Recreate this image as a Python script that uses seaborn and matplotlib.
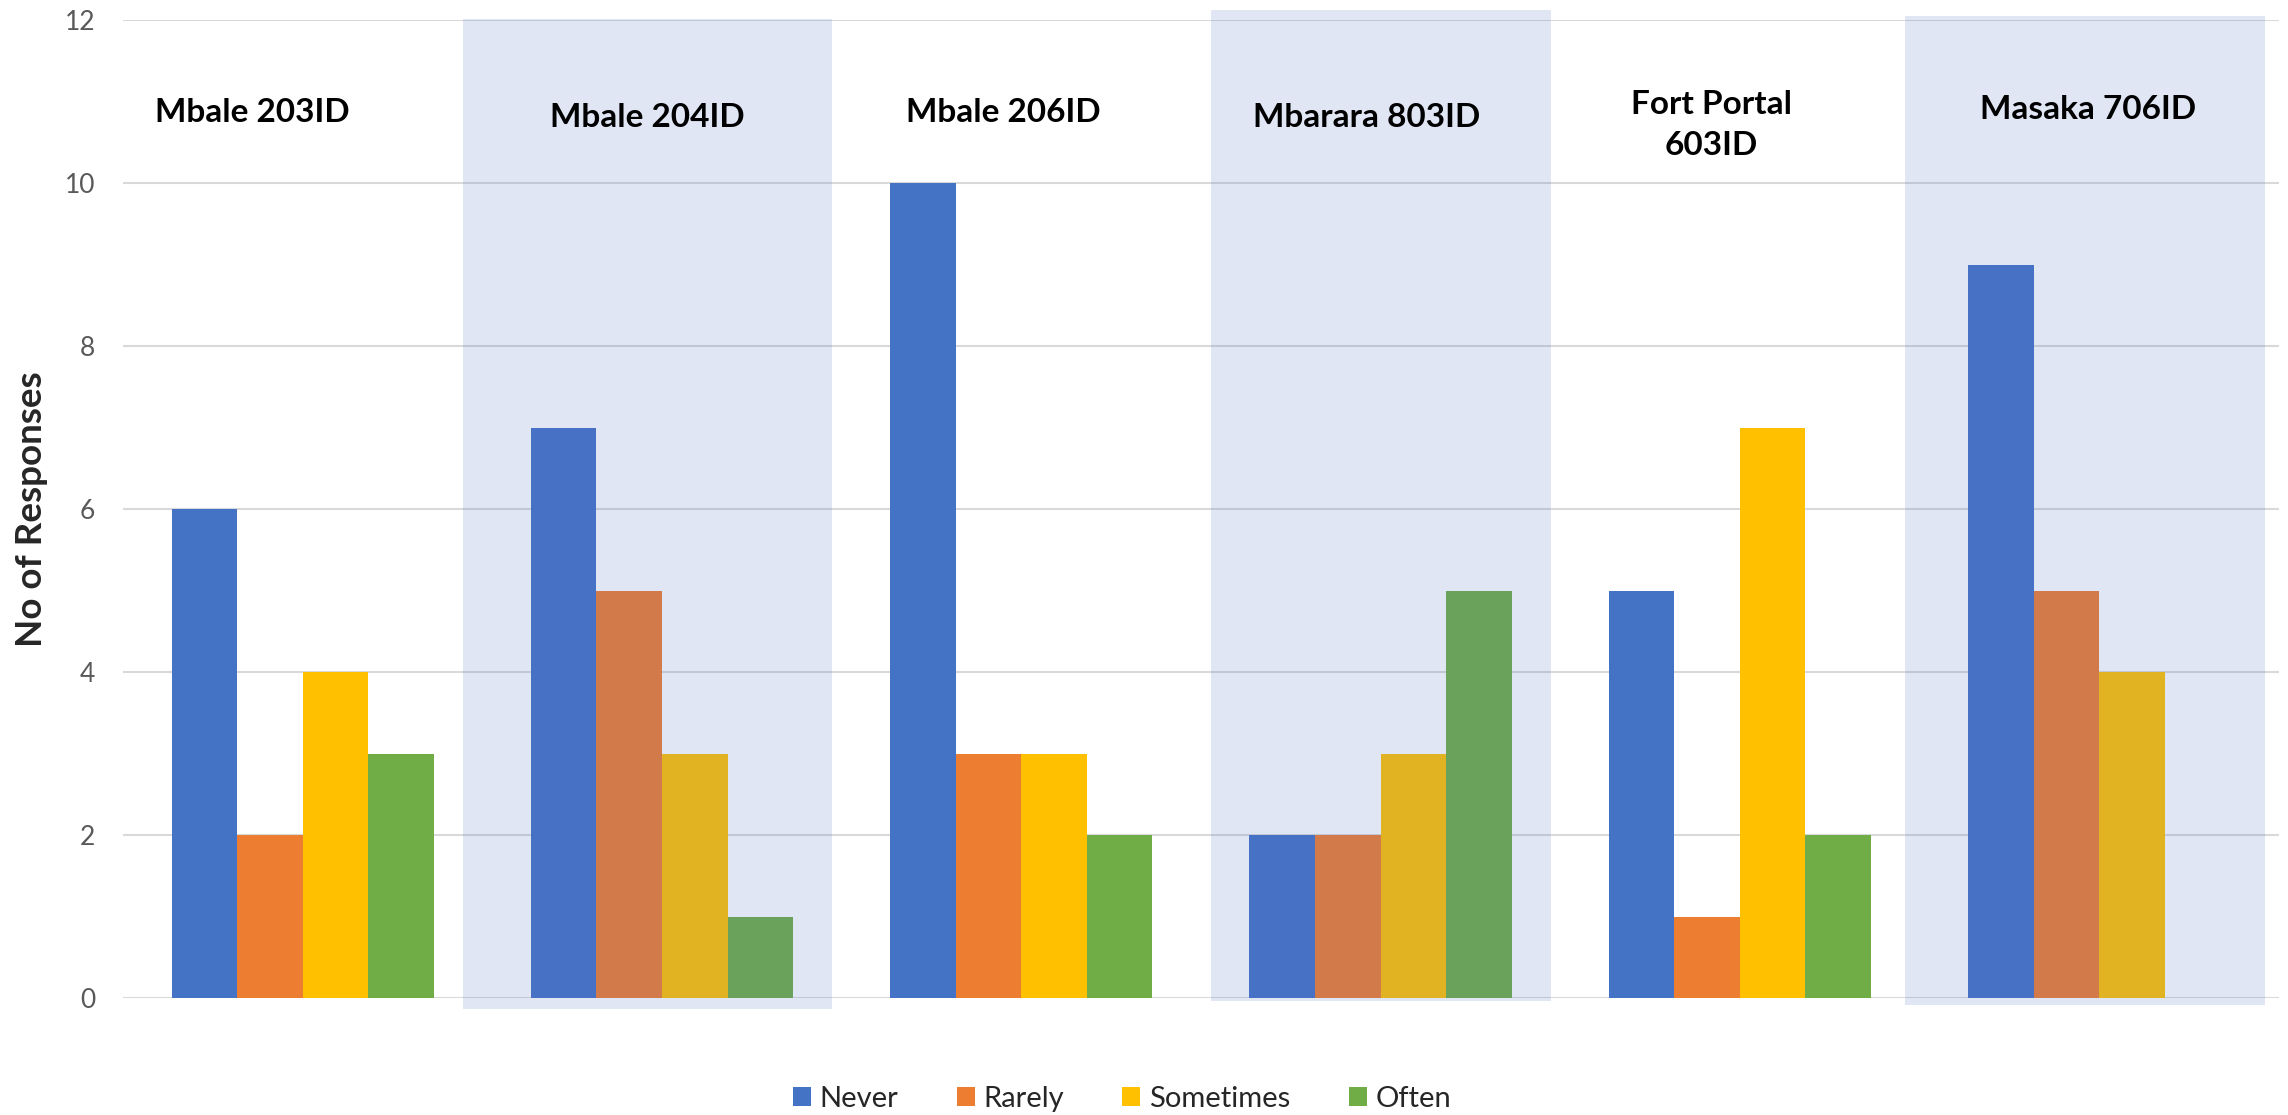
import pandas as pd
import seaborn as sns
import matplotlib.pyplot as plt
from matplotlib.patches import Rectangle

# data
sites = ["Mbale 203ID", "Mbale 204ID", "Mbale 206ID", "Mbarara 803ID", "Fort Portal\n603ID", "Masaka 706ID"]
responses = ["Never", "Rarely", "Sometimes", "Often"]
never = [6, 7, 10, 2, 5, 9]
rarely = [2, 5, 3, 2, 1, 5]
sometimes = [4, 3, 3, 3, 7, 4]
often = [3, 1, 2, 5, 2, 0]
colors = ["#4472C4", "#ED7D31", "#FFC000", "#70AD47"]

# build long-form table
rows = []
for resp, vals in zip(responses, [never, rarely, sometimes, often]):
    for site, v in zip(sites, vals):
        rows.append({"Site": site, "Response": resp, "Count": v})
df = pd.DataFrame(rows)

sns.set_style("white")
plt.rcParams['font.family'] = ['Lato', 'DejaVu Sans']

fig = plt.figure(figsize=(22.88, 11.15), dpi=100)
ax = fig.add_axes([0.0538, 0.1049, 0.9422, 0.8771])

sns.barplot(data=df, x="Site", y="Count", hue="Response", hue_order=responses,
            palette=colors, width=0.73, linewidth=0, saturation=1, ax=ax, legend=True)

ax.set_ylim(0, 12)
ax.set_xlim(-0.5, 5.5)
ax.set_yticks(range(0, 13, 2))
ax.tick_params(axis="y", length=0, pad=20, labelsize=19, labelcolor="#595959")
ax.set_xticks([])
ax.set_xlabel("")
ax.set_ylabel("No of Responses", fontsize=26.5, fontweight="bold")
ax.yaxis.set_label_coords(-0.035, 0.5)
ax.grid(axis="y", color="#D9D9D9", linewidth=1.5)
ax.set_axisbelow(True)
for s in ax.spines.values():
    s.set_visible(False)

# shaded boxes behind the alternate sites (semi transparent overlay)
shades = [(0.446, 1.473, -0.135, 12.01), (2.528, 3.474, -0.04, 12.12), (4.46, 5.462, -0.09, 12.05)]
for x0, x1, y0, y1 in shades:
    ax.add_patch(Rectangle((x0, y0), x1 - x0, y1 - y0, facecolor="#5170C4", alpha=0.17,
                           edgecolor="none", clip_on=False, zorder=5))

# site labels at the top of each group
label_dx = [-0.14, -0.04, -0.05, -0.04, -0.08, -0.03]
label_y = [10.86, 10.81, 10.87, 10.8, 10.71, 10.9]
for i, site in enumerate(sites):
    ax.text(i + label_dx[i], label_y[i], site, ha="center", va="center",
            fontsize=24, fontweight="bold", color="black", linespacing=1.5, zorder=6)

leg = ax.legend(loc="center", bbox_to_anchor=(1122 / 2288, 1 - 1099 / 1115),
                bbox_transform=fig.transFigure, ncol=4, frameon=False, fontsize=21,
                handlelength=0.62, handleheight=0.62, handletextpad=0.3, columnspacing=2.0)

fig.savefig("out.png", dpi=100)
